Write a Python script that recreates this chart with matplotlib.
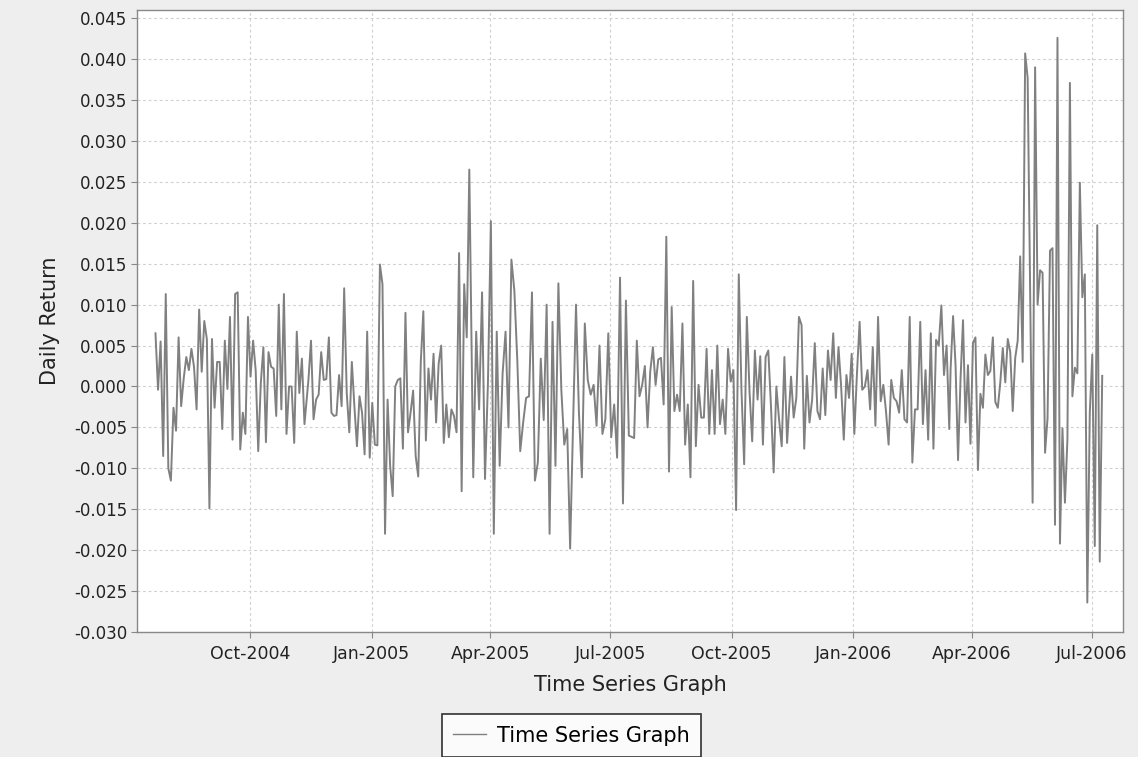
import numpy as np
import pandas as pd
import matplotlib
matplotlib.use("Agg")
import matplotlib.pyplot as plt
import matplotlib.dates as mdates
from matplotlib.ticker import FormatStrFormatter, MultipleLocator

plt.rcParams['font.family'] = ['DejaVu Sans']
plt.rcParams['axes.unicode_minus'] = False

# daily returns, in six stretches (start date, end date, values)
seg1_dates = ("2004-07-21", "2004-11-11")
seg1 = [0.0065, -0.0004, 0.0055, -0.0085, 0.0113, -0.010, -0.0115, -0.0026, -0.0054, 0.006,
        -0.0024, 0.001, 0.0036, 0.002, 0.0046, 0.0024, -0.0028, 0.0094, 0.0018, 0.008,
        0.0058, -0.0149, 0.0058, -0.0026, 0.003, 0.003, -0.0052, 0.0056, -0.0003, 0.0085,
        -0.0065, 0.0113, 0.0115, -0.0077, -0.0032, -0.0058, 0.0085, 0.0012, 0.0056, 0.002,
        -0.0079, 0.0004, 0.0048, -0.0068, 0.0042, 0.0024, 0.0022, -0.0036, 0.010, -0.0028,
        0.0113, -0.0058, 0.000, 0.000, -0.0069, 0.0067, -0.0008, 0.0034, -0.0046]

seg2_dates = ("2004-11-14", "2005-03-16")
seg2 = [0.0008, 0.0056, -0.004, -0.0016, -0.001, 0.0042, 0.0008, 0.0009, 0.006, -0.0032,
        -0.0036, -0.0035, 0.0014, -0.0024, 0.012, -0.0008, -0.0056, 0.003, -0.0024, -0.0073,
        -0.0012, -0.0032, -0.0083, 0.0067, -0.0087, -0.002, -0.0071, -0.0072, 0.0149, 0.0125,
        -0.018, -0.0016, -0.0097, -0.0134, 0.000, 0.0008, 0.001, -0.0076, 0.009, -0.0056,
        -0.0032, -0.0005, -0.0085, -0.011, 0.003, 0.0092, -0.0066, 0.0022, -0.0016, 0.004,
        -0.0044, 0.0028, 0.005, -0.0069, -0.0022, -0.0062, -0.0028, -0.0036, -0.0056, 0.0163,
        -0.0128, 0.0125, 0.006, 0.0265]

seg3_dates = ("2005-03-19", "2005-07-15")
seg3 = [-0.0111, 0.0067, -0.0028, 0.0115, -0.0113, 0.0004, 0.0202, -0.018, 0.0067, -0.0097,
        0.0016, 0.0067, -0.005, 0.0155, 0.0117, 0.0032, -0.0079, -0.0044, -0.0014, -0.0012,
        0.0115, -0.0115, -0.0093, 0.0034, -0.0041, 0.010, -0.018, 0.0079, -0.0097, 0.0126,
        -0.0004, -0.0071, -0.0052, -0.0198, -0.0046, 0.010, -0.0032, -0.0111, 0.0077, 0.0008,
        -0.001, 0.0002, -0.0048, 0.005, -0.0058, -0.004, 0.0065, -0.0062, -0.0022, -0.0087,
        0.0133, -0.0143, 0.0105, -0.006]

seg4_dates = ("2005-07-19", "2005-11-12")
seg4 = [-0.0063, 0.0056, -0.0012, 0.0002, 0.0025, -0.005, 0.0018, 0.0048, 0.0002, 0.0033,
        0.0035, -0.0022, 0.0183, -0.0104, 0.0097, -0.003, -0.001, -0.003, 0.0077, -0.0071,
        -0.0022, -0.0111, 0.0129, -0.0073, 0.0002, -0.0038, -0.0038, 0.0046, -0.0058, 0.002,
        -0.0058, 0.005, -0.0046, -0.0016, -0.0058, 0.0046, 0.0006, 0.002, -0.0151, 0.0137,
        -0.0004, -0.0095, 0.0085, -0.0006, -0.0067, 0.0044, -0.0016, 0.0037, -0.0071, 0.0036,
        0.0044, -0.0024, -0.0105, 0.000, -0.004, -0.0073, 0.0036, -0.0069]

seg5_dates = ("2005-11-15", "2006-03-15")
seg5 = [0.0012, -0.0038, -0.0014, 0.0085, 0.0075, -0.0076, 0.0013, -0.0044, -0.0016, 0.0053,
        -0.003, -0.004, 0.0022, -0.0035, 0.0044, 0.0008, 0.0065, -0.0014, 0.0048, 0.000,
        -0.0065, 0.0014, -0.0014, 0.004, -0.0058, 0.0016, 0.0079, -0.0004, 0.000, 0.002,
        -0.0028, 0.0048, -0.0048, 0.0085, -0.0018, 0.0002, -0.003, -0.0071, 0.0008, -0.0014,
        -0.0018, -0.0032, 0.002, -0.004, -0.0044, 0.0085, -0.0093, -0.0028, -0.0028, 0.0079,
        -0.0046, 0.002, -0.0065, 0.0065, -0.0076, 0.0057, 0.005, 0.0099, 0.0014, 0.005,
        -0.0052]

seg6_dates = ("2006-03-16", "2006-07-09")
seg6 = [0.0021, 0.0086, 0.0026, -0.009, 0.0009, 0.0081, -0.0044, 0.0026, -0.007, 0.0053,
        0.006, -0.0102, -0.0009, -0.0026, 0.0039, 0.0014, 0.0019, 0.006, -0.0019, -0.0026,
        0.0005, 0.0047, 0.0005, 0.0058, 0.0042, -0.003, 0.0035, 0.0056, 0.0159, 0.003,
        0.0407, 0.0377, 0.0121, -0.0142, 0.039, 0.010, 0.0142, 0.0139, -0.0081, -0.0039,
        0.0166, 0.0169, -0.0169, 0.0426, -0.0192, -0.0051, -0.0142, -0.0065, 0.0371, -0.0012,
        0.0023, 0.0016, 0.0249, 0.0109, 0.0137, -0.0264, -0.0032, 0.0039, -0.0195, 0.0197,
        -0.0214, 0.0013]

segments = [(seg1_dates, seg1), (seg2_dates, seg2), (seg3_dates, seg3),
            (seg4_dates, seg4), (seg5_dates, seg5), (seg6_dates, seg6)]

dates = []
values = []
for (start, end), vals in segments:
    dates.extend(pd.date_range(start, end, periods=len(vals)))
    values.extend(vals)
series = pd.Series(values, index=pd.DatetimeIndex(dates))

bg = '#eeeeee'
fig = plt.figure(figsize=(11.38, 7.57), dpi=100, facecolor=bg)
ax = fig.add_axes([0.1204, 0.1651, 0.8667, 0.8217])
ax.set_facecolor('white')

line, = ax.plot(series.index, series.values, color='#808080', lw=1.4,
                label='Time Series Graph')

ax.set_xlim(pd.Timestamp("2004-07-07"), pd.Timestamp("2006-07-25"))
ax.set_ylim(-0.030, 0.046)
ax.yaxis.set_major_locator(MultipleLocator(0.005))
ax.yaxis.set_major_formatter(FormatStrFormatter('%.3f'))
ax.xaxis.set_major_locator(mdates.MonthLocator(bymonth=[1, 4, 7, 10]))
ax.xaxis.set_major_formatter(mdates.DateFormatter('%b-%Y'))

ax.grid(True, color='#d0d0d0', lw=0.8, ls=(0, (2.5, 2.5)))
ax.set_axisbelow(True)
for s in ax.spines.values():
    s.set_color('#888888')
    s.set_linewidth(1.0)
ax.tick_params(direction='out', length=4, width=0.8, color='#888888',
               labelcolor='#222222')
ax.tick_params(axis='x', labelsize=12.5, pad=5)
ax.tick_params(axis='y', labelsize=12, pad=3)

ax.set_xlabel('Time Series Graph', fontsize=15, color='#222222', labelpad=9)
ax.set_ylabel('Daily Return', fontsize=15, color='#222222', labelpad=10)

leg = fig.legend(handles=[line], loc='lower center', bbox_to_anchor=(0.502, 0.0),
                 fontsize=15, frameon=True, fancybox=False, handlelength=1.6,
                 handletextpad=0.5, borderpad=0.55, borderaxespad=0.0)
leg.get_frame().set_edgecolor('black')
leg.get_frame().set_linewidth(1.2)
leg.get_frame().set_facecolor('white')
leg.get_lines()[0].set_linewidth(1.0)

fig.savefig('out.png', dpi=100, facecolor=bg)
